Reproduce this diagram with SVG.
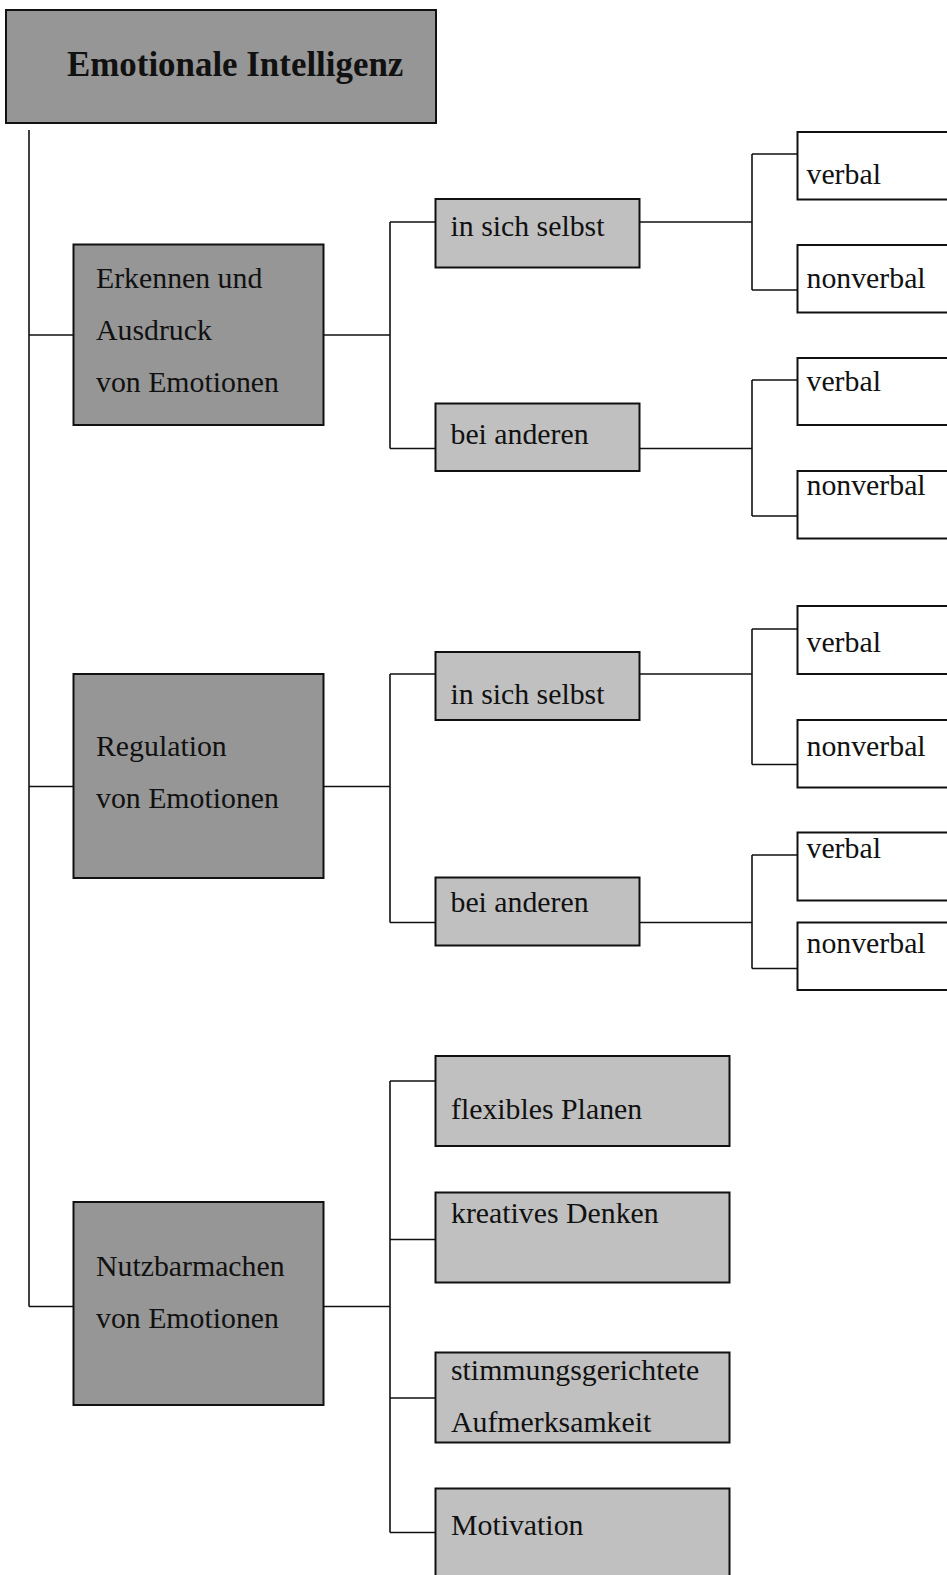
<svg xmlns="http://www.w3.org/2000/svg" width="947" height="1575" viewBox="0 0 947 1575">
<style>
  .dark{fill:#969696;stroke:#111;stroke-width:2}
  .light{fill:#c0c0c0;stroke:#111;stroke-width:2}
  .white{fill:#fff;stroke:#111;stroke-width:2}
  .t{font-family:"Liberation Serif","Times New Roman",serif;font-size:29.8px;fill:#111}
  .title{font-family:"Liberation Serif","Times New Roman",serif;font-size:34.9px;font-weight:bold;fill:#111}
  .c{fill:none;stroke:#111;stroke-width:1.6}
</style>
<rect width="947" height="1575" fill="#fff"/>
<g id="connectors">
  <path class="c" d="M29 130 V1306.5"/>
  <path class="c" d="M29 335 H73 M29 786.5 H73 M29 1306.5 H73"/>
  <path class="c" d="M323 335 H390 M390 222 V448.5 M390 222 H435 M390 448.5 H435"/>
  <path class="c" d="M639 222 H752 M752 154 V290 M752 154 H797 M752 290 H797"/>
  <path class="c" d="M639 448.5 H752 M752 380 V516 M752 380 H797 M752 516 H797"/>
  <path class="c" d="M323 786.5 H390 M390 674 V922.5 M390 674 H435 M390 922.5 H435"/>
  <path class="c" d="M639 674 H752 M752 629 V764.5 M752 629 H797 M752 764.5 H797"/>
  <path class="c" d="M639 922.5 H752 M752 855 V968.5 M752 855 H797 M752 968.5 H797"/>
  <path class="c" d="M323 1306.5 H390 M390 1081 V1532.5 M390 1081 H435 M390 1239.5 H435 M390 1398 H435 M390 1532.5 H435"/>
</g>
<g id="root"><rect class="dark" x="6" y="10" width="430" height="113"/><text class="title" x="67" y="76">Emotionale Intelligenz</text></g>
<g id="erkennen"><rect class="dark" x="73.5" y="244.5" width="250" height="180.5"/><text class="t" x="96" y="288">Erkennen und</text><text class="t" x="96" y="340">Ausdruck</text><text class="t" x="96" y="392">von Emotionen</text></g>
<g id="e-selbst"><rect class="light" x="435.5" y="199" width="204" height="68.5"/><text class="t" x="450.5" y="236">in sich selbst</text></g>
<g id="e-selbst-verbal"><rect class="white" x="797.5" y="132" width="170" height="67.5"/><text class="t" x="806.5" y="183.5">verbal</text></g>
<g id="e-selbst-nonverbal"><rect class="white" x="797.5" y="245" width="170" height="67.5"/><text class="t" x="806.5" y="287.5">nonverbal</text></g>
<g id="e-anderen"><rect class="light" x="435.5" y="403.5" width="204" height="67.5"/><text class="t" x="450.5" y="443.5">bei anderen</text></g>
<g id="e-anderen-verbal"><rect class="white" x="797.5" y="358" width="170" height="67"/><text class="t" x="806.5" y="391">verbal</text></g>
<g id="e-anderen-nonverbal"><rect class="white" x="797.5" y="471" width="170" height="67.5"/><text class="t" x="806.5" y="495">nonverbal</text></g>
<g id="regulation"><rect class="dark" x="73.5" y="674" width="250" height="204"/><text class="t" x="96" y="756">Regulation</text><text class="t" x="96" y="808">von Emotionen</text></g>
<g id="r-selbst"><rect class="light" x="435.5" y="652" width="204" height="68"/><text class="t" x="450.5" y="703.5">in sich selbst</text></g>
<g id="r-selbst-verbal"><rect class="white" x="797.5" y="606" width="170" height="68"/><text class="t" x="806.5" y="651.5">verbal</text></g>
<g id="r-selbst-nonverbal"><rect class="white" x="797.5" y="720" width="170" height="67.5"/><text class="t" x="806.5" y="755.5">nonverbal</text></g>
<g id="r-anderen"><rect class="light" x="435.5" y="877.5" width="204" height="68"/><text class="t" x="450.5" y="911.5">bei anderen</text></g>
<g id="r-anderen-verbal"><rect class="white" x="797.5" y="832.5" width="170" height="68"/><text class="t" x="806.5" y="858">verbal</text></g>
<g id="r-anderen-nonverbal"><rect class="white" x="797.5" y="922.5" width="170" height="67.5"/><text class="t" x="806.5" y="953">nonverbal</text></g>
<g id="nutzbarmachen"><rect class="dark" x="73.5" y="1202" width="250" height="203"/><text class="t" x="96" y="1276">Nutzbarmachen</text><text class="t" x="96" y="1328">von Emotionen</text></g>
<g id="planen"><rect class="light" x="435.5" y="1056" width="294" height="90"/><text class="t" x="451" y="1119">flexibles Planen</text></g>
<g id="denken"><rect class="light" x="435.5" y="1192.5" width="294" height="90"/><text class="t" x="451" y="1223">kreatives Denken</text></g>
<g id="aufmerksamkeit"><rect class="light" x="435.5" y="1352.5" width="294" height="90"/><text class="t" x="451" y="1380">stimmungsgerichtete</text><text class="t" x="451" y="1432">Aufmerksamkeit</text></g>
<g id="motivation"><rect class="light" x="435.5" y="1488.5" width="294" height="100"/><text class="t" x="451" y="1535">Motivation</text></g>
</svg>
